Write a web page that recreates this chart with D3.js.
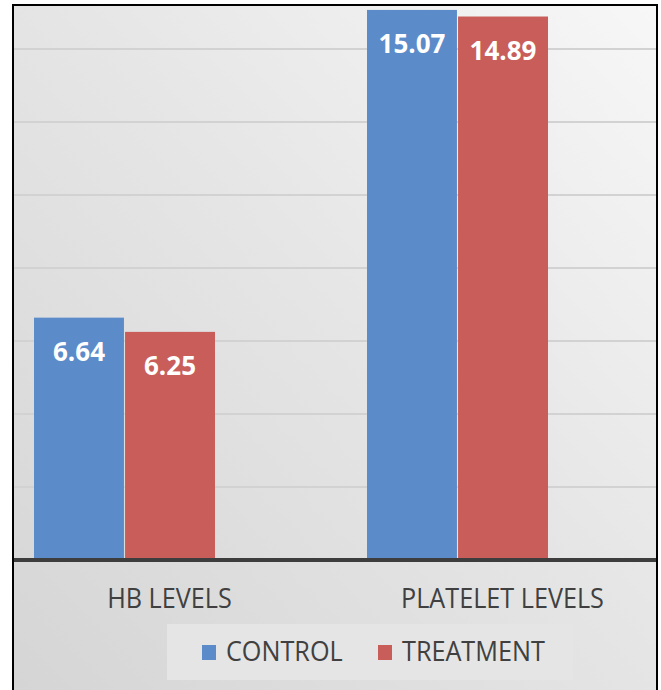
<!DOCTYPE html>
<html><head><meta charset="utf-8">
<script src="https://cdn.jsdelivr.net/npm/d3@7"></script>
<style>html,body{margin:0;padding:0;background:#fff;}svg{display:block;}</style>
</head><body>
<script>
const categories = ["HB LEVELS", "PLATELET LEVELS"];
const series = ["CONTROL", "TREATMENT"];
const controlValues = [6.64, 15.07];
const treatmentValues = [6.25, 14.89];
const yTicks = [2, 4, 6, 8, 10, 12, 14];
const colors = ["#5b8bc9", "#c85d5a"];

const W = 661, H = 690;
const frame = {l: 13, t: 5, r: 657, b: 694};
const baseY = 560;

const svg = d3.select("body").append("svg").attr("width", W).attr("height", H);
const defs = svg.append("defs");
const g1 = defs.append("linearGradient").attr("id", "bg")
  .attr("x1", "100%").attr("y1", "0%").attr("x2", "0%").attr("y2", "100%");
g1.append("stop").attr("offset", "0%").attr("stop-color", "#f7f7f7");
g1.append("stop").attr("offset", "45%").attr("stop-color", "#e6e6e6");
g1.append("stop").attr("offset", "100%").attr("stop-color", "#d5d5d5");

svg.append("rect").attr("x", frame.l).attr("y", frame.t)
  .attr("width", frame.r - frame.l).attr("height", frame.b - frame.t)
  .attr("fill", "url(#bg)");

const y = d3.scaleLinear().domain([0, 16]).range([baseY, baseY - 584]);
const xc = d3.scalePoint().domain(categories).range([124.5, 457.5]);
const xs = d3.scaleBand().domain(series).range([-90.5, 90.5]).paddingInner(0.012);
const labelShift = 45;

const plot = svg.append("g");
plot.append("clipPath").attr("id", "clip").append("rect")
  .attr("x", frame.l).attr("y", frame.t).attr("width", frame.r - frame.l).attr("height", baseY - frame.t);

// gridlines
plot.selectAll("line.grid").data(yTicks).join("line").attr("class", "grid")
  .attr("x1", frame.l + 1).attr("x2", frame.r - 1)
  .attr("y1", d => y(d)).attr("y2", d => y(d))
  .attr("stroke", "#d2d2d2").attr("stroke-width", 2);

const data = categories.map((c, i) => ({cat: c, vals: [controlValues[i], treatmentValues[i]]}));
const groups = plot.append("g").attr("clip-path", "url(#clip)")
  .selectAll("g").data(data).join("g")
  .attr("transform", d => `translate(${xc(d.cat)},0)`);
groups.selectAll("rect").data(d => d.vals.map((v, j) => ({v, s: series[j], j})))
  .join("rect")
  .attr("x", d => xs(d.s)).attr("width", xs.bandwidth())
  .attr("y", d => y(d.v)).attr("height", d => y(0) - y(d.v))
  .attr("fill", d => colors[d.j]);
groups.selectAll("text").data(d => d.vals.map((v, j) => ({v, s: series[j], j})))
  .join("text")
  .attr("x", d => xs(d.s) + xs.bandwidth() / 2)
  .attr("y", d => y(d.v) + 43)
  .attr("text-anchor", "middle")
  .attr("font-family", "'Open Sans', sans-serif").attr("font-weight", 700)
  .attr("font-size", 26).attr("fill", "#ffffff")
  .text(d => d.v.toFixed(2));

// baseline
svg.append("line").attr("x1", frame.l).attr("x2", frame.r)
  .attr("y1", y(0)).attr("y2", y(0))
  .attr("stroke", "#3d3d3d").attr("stroke-width", 4);

// category labels
const condense = sel => sel.each(function() {
  const len = this.getComputedTextLength();
  d3.select(this).attr("textLength", len * 0.9).attr("lengthAdjust", "spacingAndGlyphs");
});
svg.selectAll("text.cat").data(categories).join("text").attr("class", "cat")
  .attr("x", d => xc(d) + labelShift).attr("y", 608)
  .attr("text-anchor", "middle")
  .attr("font-family", "'Open Sans', sans-serif").attr("font-size", 28)
  .attr("fill", "#404040")
  .text(d => d).call(condense);

// legend
const leg = svg.append("g");
leg.append("rect").attr("x", 167).attr("y", 624).attr("width", 406).attr("height", 56)
  .attr("fill", "#e5e5e5");
const legX = [202, 378];
const items = leg.selectAll("g").data(series).join("g")
  .attr("transform", (d, i) => `translate(${legX[i]},645)`);
items.append("rect").attr("width", 14).attr("height", 15).attr("fill", (d, i) => colors[i]);
items.append("text").attr("x", 24).attr("y", 16)
  .attr("font-family", "'Open Sans', sans-serif").attr("font-size", 28)
  .attr("fill", "#404040").text(d => d).call(condense);

// frame
svg.append("rect").attr("x", frame.l).attr("y", frame.t)
  .attr("width", frame.r - frame.l).attr("height", frame.b - frame.t)
  .attr("fill", "none").attr("stroke", "#000").attr("stroke-width", 2);
</script>
</body></html>
